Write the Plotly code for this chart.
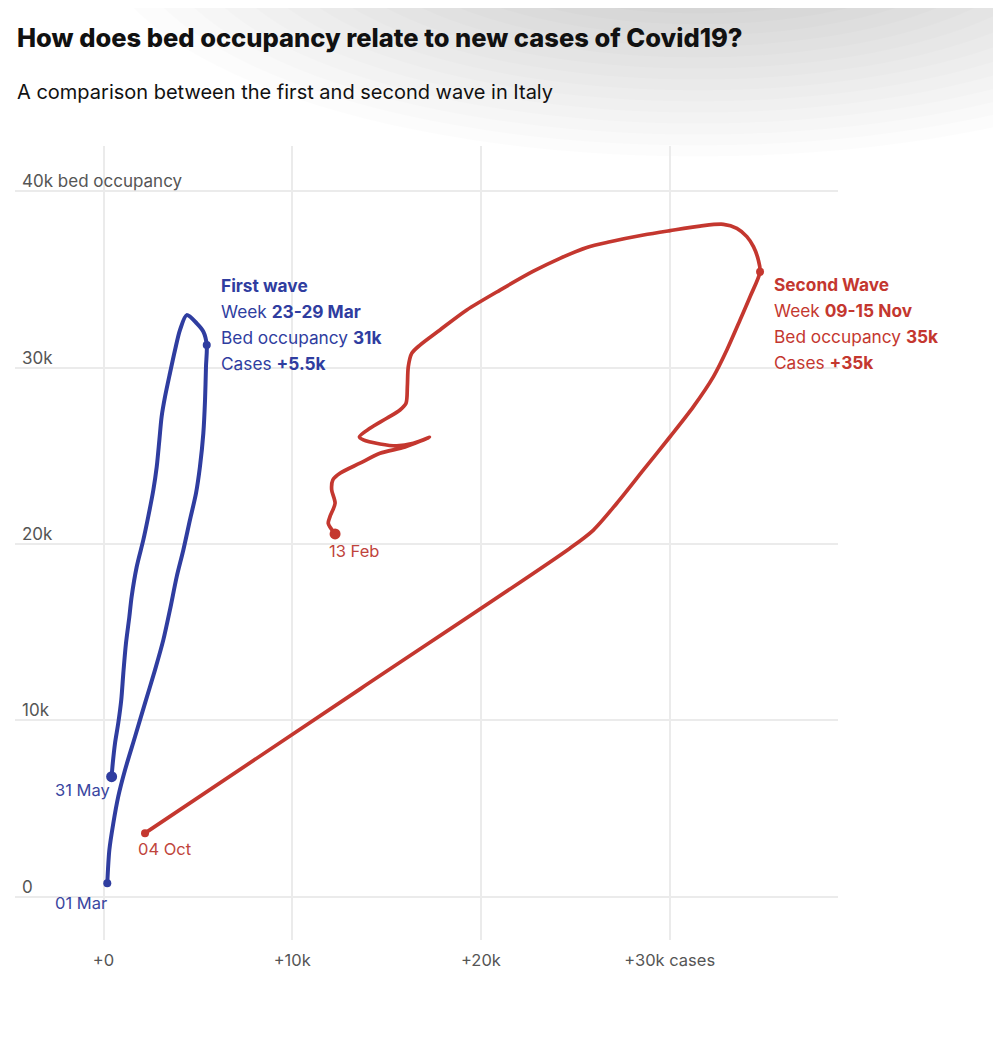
import plotly.graph_objects as go

# first wave: daily new cases (k, 7-day avg) vs bed occupancy (k), 01 Mar -> 31 May
first_cases = [0.20, 0.31, 0.52, 0.78, 1.14, 1.67, 2.20, 2.73, 3.17, 3.52, 3.88, 4.23,
               4.58, 4.90, 5.11, 5.29, 5.38, 5.43, 5.47, 5.29, 4.94, 4.41, 4.05, 3.79,
               3.52, 3.26, 3.08, 2.96, 2.82, 2.64, 2.37, 2.11, 1.76, 1.49, 1.37, 1.19,
               1.05, 0.94, 0.78, 0.61, 0.49, 0.43]
first_beds = [0.76, 2.65, 4.16, 5.67, 7.18, 9.07, 10.97, 12.86, 14.56, 16.26, 18.15, 19.66,
              21.36, 22.87, 24.38, 26.28, 28.17, 30.05, 31.28, 32.04, 32.51, 32.98, 32.13, 31.00,
              29.68, 28.35, 27.22, 25.90, 24.38, 23.06, 21.55, 20.23, 18.71, 17.01, 15.88, 14.37,
              12.67, 11.15, 9.83, 8.70, 7.56, 6.80]
first_peak_idx = 18  # week 23-29 Mar

# second wave: 04 Oct -> 13 Feb
second_cases = [2.20, 13.59, 24.72, 25.96, 27.20, 28.61, 30.02, 31.26, 32.32, 33.03, 33.73,
                34.26, 34.79, 34.70, 34.44, 34.09, 33.56, 32.85, 31.61, 30.02, 28.61, 26.84,
                25.61, 24.19, 22.78, 21.01, 19.25, 17.83, 16.77, 16.33, 16.15, 16.10,
                16.03, 15.71, 15.01, 14.12, 13.56, 13.77, 14.65, 15.54, 16.42, 17.27, 15.98,
                14.65, 13.59, 12.53, 12.15, 12.09, 12.27, 12.00, 11.91, 12.27]
second_beds = [3.60, 11.77, 19.76, 20.79, 22.31, 24.20, 26.08, 27.79, 29.49, 31.00, 32.70,
               34.02, 35.44, 36.10, 36.86, 37.43, 37.90, 38.13, 38.03, 37.77, 37.52, 37.14,
               36.82, 36.20, 35.47, 34.40, 33.27, 32.14, 31.28, 30.81, 30.05, 28.92,
               27.98, 27.60, 27.13, 26.56, 26.08, 25.90, 25.67, 25.56, 25.71, 26.05, 25.50,
               25.14, 24.58, 24.01, 23.63, 23.07, 22.31, 21.55, 21.17, 20.57]
second_peak_idx = 12  # week 09-15 Nov

x_ticks = [0, 10, 20, 30]
x_ticktext = ["+0", "+10k", "+20k", "+30k cases"]
y_ticks = [0, 10, 20, 30, 40]
y_ticktext = ["0", "10k", "20k", "30k", "40k bed occupancy"]

first_text = ["<b>First wave</b>", "Week <b>23-29 Mar</b>",
              "Bed occupancy <b>31k</b>", "Cases <b>+5.5k</b>"]
second_text = ["<b>Second Wave</b>", "Week <b>09-15 Nov</b>",
               "Bed occupancy <b>35k</b>", "Cases <b>+35k</b>"]

BLUE = "#2f3da0"
RED = "#c4372f"
FONT = "Inter"

fig = go.Figure()

for xs, ys, col, pk, w in [(first_cases, first_beds, BLUE, first_peak_idx, 4),
                           (second_cases, second_beds, RED, second_peak_idx, 3.7)]:
    fig.add_trace(go.Scatter(x=xs, y=ys, mode="lines",
                             line=dict(color=col, width=w, shape="spline", smoothing=0.8),
                             hoverinfo="skip"))
    # start / highlighted week / end markers
    fig.add_trace(go.Scatter(x=[xs[0], xs[pk], xs[-1]], y=[ys[0], ys[pk], ys[-1]],
                             mode="markers",
                             marker=dict(color=col, size=[8, 8, 11], opacity=1, line=dict(width=0)),
                             hoverinfo="skip"))

# date labels at the ends
date_labels = [(first_cases[0], first_beds[0], "01 Mar", "#3a46a0", "right", 2, -20),
               (first_cases[-1], first_beds[-1], "31 May", "#3a46a0", "right", 0, -13),
               (second_cases[0], second_beds[0], "04 Oct", "#c0443c", "left", -9, -16),
               (second_cases[-1], second_beds[-1], "13 Feb", "#c0443c", "left", -8, -17)]
for x, y, t, col, anc, xs_, ys_ in date_labels:
    fig.add_annotation(x=x, y=y, text=t, showarrow=False, xanchor=anc, yanchor="middle",
                       xshift=xs_, yshift=ys_, font=dict(family=FONT, size=16.5, color=col))

# callout blocks next to the highlighted weeks
for xs, ys, pk, lines, col, dy0 in [(first_cases, first_beds, first_peak_idx, first_text, BLUE, 60),
                                    (second_cases, second_beds, second_peak_idx, second_text, RED, -13)]:
    for i, line in enumerate(lines):
        fig.add_annotation(x=xs[pk], y=ys[pk], text=line, showarrow=False,
                           xanchor="left", yanchor="middle", xshift=12, yshift=dy0 - 26 * i,
                           font=dict(family=FONT, size=17.3, color=col))

# y tick labels sit inside the plot, just above their grid line
for v, t in zip(y_ticks, y_ticktext):
    fig.add_annotation(xref="paper", x=0, y=v, text=t, showarrow=False,
                       xanchor="left", yanchor="middle", xshift=5, yshift=10,
                       font=dict(family=FONT, size=17, color="#555"))

# soft grey shading at the top of the page
for k in range(18):
    fig.add_shape(type="circle", xref="paper", yref="paper", xsizemode="pixel", ysizemode="pixel",
                  xanchor=0.83, yanchor=1.27, x0=-600 + k * 28, x1=600 - k * 28,
                  y0=-225 + k * 11, y1=225 - k * 11, line=dict(width=0),
                  fillcolor="rgba(0,0,0,0.011)", layer="below")

# page body adds an 8px margin, so the figure is drawn 8px smaller
fig.update_layout(
    width=993, height=1051,
    margin=dict(l=7, r=163, t=138, b=119),
    plot_bgcolor="rgba(0,0,0,0)", paper_bgcolor="white",
    showlegend=False,
    font=dict(family=FONT, color="#555"),
)
fig.add_annotation(xref="paper", yref="paper", x=0, y=1 + (138 - 29) / 794,
                   xanchor="left", yanchor="middle", showarrow=False,
                   text="How does bed occupancy relate to new cases of Covid19?",
                   font=dict(family=FONT, size=25.5, color="#111", weight=800))
fig.add_annotation(xref="paper", yref="paper", x=0, y=1 + (138 - 84) / 794,
                   xanchor="left", yanchor="middle", showarrow=False,
                   text="A comparison between the first and second wave in Italy",
                   font=dict(family=FONT, size=20, color="#111"))

fig.update_xaxes(range=[-4.69, 38.92], tickvals=x_ticks, ticktext=x_ticktext,
                 showgrid=True, gridcolor="#ebebeb", gridwidth=1.5, zeroline=False,
                 showline=False, ticks="", ticklabelstandoff=8,
                 tickfont=dict(family=FONT, size=16.5, color="#555"))
fig.update_yaxes(range=[-2.46, 42.57], tickvals=y_ticks, showticklabels=False,
                 showgrid=True, gridcolor="#ebebeb", gridwidth=1.5, zeroline=False,
                 showline=False, ticks="")

fig.write_html("out.html")
